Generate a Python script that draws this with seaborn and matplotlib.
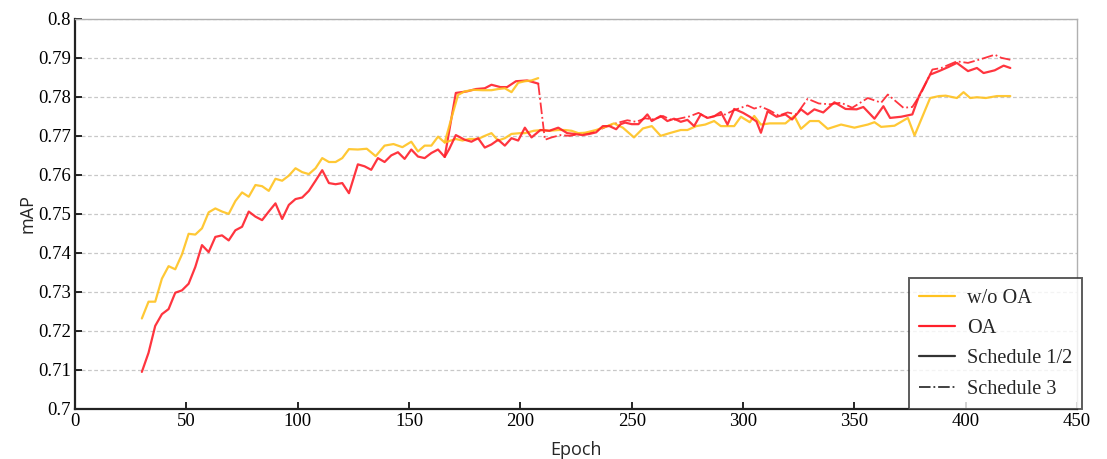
import numpy as np
import pandas as pd
import matplotlib
matplotlib.use("Agg")
import matplotlib.pyplot as plt
import seaborn as sns
from matplotlib.lines import Line2D

# ---------------- data ----------------
woa_main_epoch = [30, 33, 36, 39, 42, 45, 48, 51, 54, 57, 60, 63, 66, 69, 72, 75, 78, 81, 84, 87,
                  90, 93, 96, 99, 102, 105, 108, 111, 114, 117, 120, 123, 127, 131, 135, 139, 143, 147,
                  151, 154, 157, 160, 163, 166, 171, 174, 177, 181, 184, 187, 190, 193, 196, 200, 202,
                  206, 210, 213, 217, 220, 223, 226, 229, 234, 239, 242, 246, 251, 255, 259, 263, 267,
                  272, 275, 279, 283, 287, 290, 296, 299, 303, 305, 308, 312, 316, 319, 323, 326, 330,
                  334, 338, 344, 350, 356, 359, 362, 368, 374, 377, 384, 388, 391, 396, 399, 402, 405,
                  409, 414, 420]
woa_main_map = [0.7232, 0.7275, 0.7275, 0.7334, 0.7366, 0.7358, 0.7396, 0.7449, 0.7447, 0.7463,
                0.7504, 0.7514, 0.7506, 0.7500, 0.7533, 0.7555, 0.7544, 0.7574, 0.7571, 0.7559,
                0.7590, 0.7585, 0.7598, 0.7617, 0.7607, 0.7602, 0.7617, 0.7643, 0.7633, 0.7633,
                0.7643, 0.7666, 0.7665, 0.7667, 0.7648, 0.7675, 0.7679, 0.7671, 0.7685, 0.7660,
                0.7675, 0.7675, 0.7698, 0.7683, 0.7692, 0.7688, 0.7692, 0.7692, 0.7700, 0.7707,
                0.7688, 0.7694, 0.7705, 0.7707, 0.7707, 0.7713, 0.7715, 0.7713, 0.7715, 0.7715,
                0.7713, 0.7707, 0.7708, 0.7715, 0.7725, 0.7732, 0.7721, 0.7696, 0.7719, 0.7725,
                0.7700, 0.7707, 0.7715, 0.7715, 0.7725, 0.7729, 0.7738, 0.7725, 0.7725, 0.7749,
                0.7735, 0.7751, 0.7729, 0.7732, 0.7732, 0.7732, 0.7751, 0.7718, 0.7738, 0.7738,
                0.7718, 0.7729, 0.7721, 0.7729, 0.7735, 0.7723, 0.7726, 0.7746, 0.7701, 0.7797,
                0.7802, 0.7803, 0.7797, 0.7812, 0.7797, 0.7799, 0.7797, 0.7802, 0.7802]

woa_s1_epoch = [166, 169, 172, 175, 179, 183, 187, 190, 193, 196, 199, 202, 205, 208]
woa_s1_map = [0.7683, 0.7745, 0.7805, 0.7814, 0.7818, 0.7817, 0.7817, 0.7820, 0.7822, 0.7812,
              0.7836, 0.7840, 0.7842, 0.7848]

oa_main_epoch = [30, 33, 36, 39, 42, 45, 48, 51, 54, 57, 60, 63, 66, 69, 72, 75, 78, 81, 84, 87,
                 90, 93, 96, 99, 102, 105, 108, 111, 114, 117, 120, 123, 127, 130, 133, 136, 139,
                 142, 145, 148, 151, 154, 157, 160, 163, 166, 168, 171, 175, 178, 181, 184, 187, 190,
                 193, 196, 199, 202, 205, 209, 213, 217, 221, 224, 228, 231, 234, 237, 240, 243, 245,
                 247, 250, 253, 257, 259, 263, 266, 269, 272, 275, 278, 281, 284, 287, 290, 293, 296,
                 300, 303, 306, 308, 311, 315, 319, 322, 326, 329, 332, 336, 341, 346, 351, 354, 359,
                 363, 366, 371, 376, 379, 384, 388, 392, 396, 401, 405, 408, 413, 417, 420]
oa_main_map = [0.7095, 0.7144, 0.7213, 0.7243, 0.7256, 0.7298, 0.7304, 0.7321, 0.7364, 0.7420,
               0.7402, 0.7441, 0.7445, 0.7432, 0.7458, 0.7467, 0.7506, 0.7493, 0.7484, 0.7506,
               0.7527, 0.7487, 0.7523, 0.7538, 0.7542, 0.7559, 0.7585, 0.7612, 0.7579, 0.7576,
               0.7579, 0.7553, 0.7627, 0.7622, 0.7613, 0.7643, 0.7633, 0.7650, 0.7658, 0.7641,
               0.7665, 0.7647, 0.7643, 0.7656, 0.7665, 0.7646, 0.7666, 0.7702, 0.7690, 0.7685,
               0.7694, 0.7670, 0.7678, 0.7690, 0.7675, 0.7694, 0.7688, 0.7721, 0.7696, 0.7715,
               0.7713, 0.7721, 0.7707, 0.7705, 0.7702, 0.7705, 0.7709, 0.7725, 0.7725, 0.7717,
               0.7730, 0.7734, 0.7730, 0.7730, 0.7755, 0.7738, 0.7751, 0.7738, 0.7744, 0.7736,
               0.7741, 0.7725, 0.7755, 0.7746, 0.7750, 0.7761, 0.7729, 0.7769, 0.7759, 0.7749,
               0.7737, 0.7708, 0.7763, 0.7749, 0.7755, 0.7742, 0.7768, 0.7755, 0.7768, 0.7760,
               0.7786, 0.7769, 0.7768, 0.7774, 0.7744, 0.7776, 0.7746, 0.7749, 0.7755, 0.7802,
               0.7857, 0.7866, 0.7876, 0.7887, 0.7866, 0.7874, 0.7861, 0.7868, 0.7880, 0.7874]

oa_s1_epoch = [166, 171, 176, 180, 184, 187, 191, 194, 198, 203, 208]
oa_s1_map = [0.7646, 0.7810, 0.7814, 0.7820, 0.7822, 0.7831, 0.7825, 0.7825, 0.7840, 0.7842, 0.7834]

oa_s3_epoch = [208, 211, 214, 218, 222, 227, 231, 236, 240, 244, 248, 252, 256, 260, 264, 268,
               272, 276, 280, 284, 288, 292, 296, 302, 305, 308, 312, 316, 320, 324, 329, 334, 339,
               344, 349, 356, 362, 365, 372, 376, 380, 385, 389, 396, 401, 407, 413, 416, 420]
oa_s3_map = [0.7834, 0.7690, 0.7696, 0.7702, 0.7700, 0.7705, 0.7707, 0.7717, 0.7727, 0.7734,
             0.7740, 0.7736, 0.7745, 0.7742, 0.7751, 0.7740, 0.7745, 0.7750, 0.7759, 0.7746,
             0.7752, 0.7755, 0.7766, 0.7778, 0.7770, 0.7775, 0.7765, 0.7752, 0.7760, 0.7755,
             0.7795, 0.7783, 0.7781, 0.7785, 0.7772, 0.7797, 0.7785, 0.7806, 0.7772, 0.7774,
             0.7810, 0.7870, 0.7874, 0.7891, 0.7887, 0.7897, 0.7908, 0.7900, 0.7895]

x_ticks = [0, 50, 100, 150, 200, 250, 300, 350, 400, 450]
y_ticks = [0.7, 0.71, 0.72, 0.73, 0.74, 0.75, 0.76, 0.77, 0.78, 0.79, 0.8]
y_tick_labels = ["0.7", "0.71", "0.72", "0.73", "0.74", "0.75", "0.76", "0.77", "0.78", "0.79", "0.8"]
legend_labels = ["w/o OA", "OA", "Schedule 1/2", "Schedule 3"]

YELLOW = "#FFC21F"
RED = "#FF1F2A"

# ---------------- plot ----------------
sns.set_style("white")
plt.rcParams["font.family"] = ["Liberation Serif", "DejaVu Serif"]

fig = plt.figure(figsize=(11.07, 4.59), dpi=100)
ax = fig.add_axes([0.0678, 0.109, 0.9052, 0.850])

def seg(ep, vals, color, ls="-", lw=1.6, z=2):
    df = pd.DataFrame({"epoch": ep, "map": vals})
    sns.lineplot(data=df, x="epoch", y="map", ax=ax, color=color, linestyle=ls,
                 linewidth=lw, estimator=None, sort=False, zorder=z, alpha=0.9)

seg(woa_main_epoch, woa_main_map, YELLOW, z=3)
seg(woa_s1_epoch, woa_s1_map, YELLOW, z=3)
seg(oa_main_epoch, oa_main_map, RED, z=4)
seg(oa_s1_epoch, oa_s1_map, RED, z=2)
seg(oa_s3_epoch, oa_s3_map, RED, ls="-.", lw=1.3, z=2)

ax.set_xlim(0, 450)
ax.set_ylim(0.7, 0.8)
ax.set_xticks(x_ticks)
ax.set_xticklabels([str(t) for t in x_ticks])
ax.set_yticks(y_ticks)
ax.set_yticklabels(y_tick_labels)
ax.tick_params(axis="both", direction="in", length=5, width=1.2, colors="black",
               labelsize=13.5, bottom=True, left=True, top=False, right=False, pad=3)
ax.yaxis.grid(True, linestyle=(0, (3, 2)), color="#c8c8c8", linewidth=0.9)
ax.xaxis.grid(False)
ax.set_axisbelow(True)

for s in ["left", "bottom"]:
    ax.spines[s].set_color("#222222")
    ax.spines[s].set_linewidth(1.6)
for s in ["top", "right"]:
    ax.spines[s].set_color("#b0b0b0")
    ax.spines[s].set_linewidth(1.0)

ax.set_xlabel("Epoch", family=["Open Sans", "DejaVu Sans"], fontsize=13, labelpad=8)
ax.set_ylabel("mAP", family=["Open Sans", "DejaVu Sans"], fontsize=13, labelpad=1)

handles = [Line2D([], [], color=YELLOW, lw=1.6),
           Line2D([], [], color=RED, lw=1.6),
           Line2D([], [], color="#333333", lw=1.6),
           Line2D([], [], color="#333333", lw=1.3, ls="-.")]
leg = ax.legend(handles, legend_labels, loc="lower right", bbox_to_anchor=(1.005, 0.0),
                borderaxespad=0, fancybox=False, frameon=True, fontsize=14.6,
                handlelength=1.75, handletextpad=0.6, labelspacing=0.55, borderpad=0.5)
leg.get_frame().set_edgecolor("#333333")
leg.get_frame().set_linewidth(1.4)

fig.savefig("out.png", dpi=100)
